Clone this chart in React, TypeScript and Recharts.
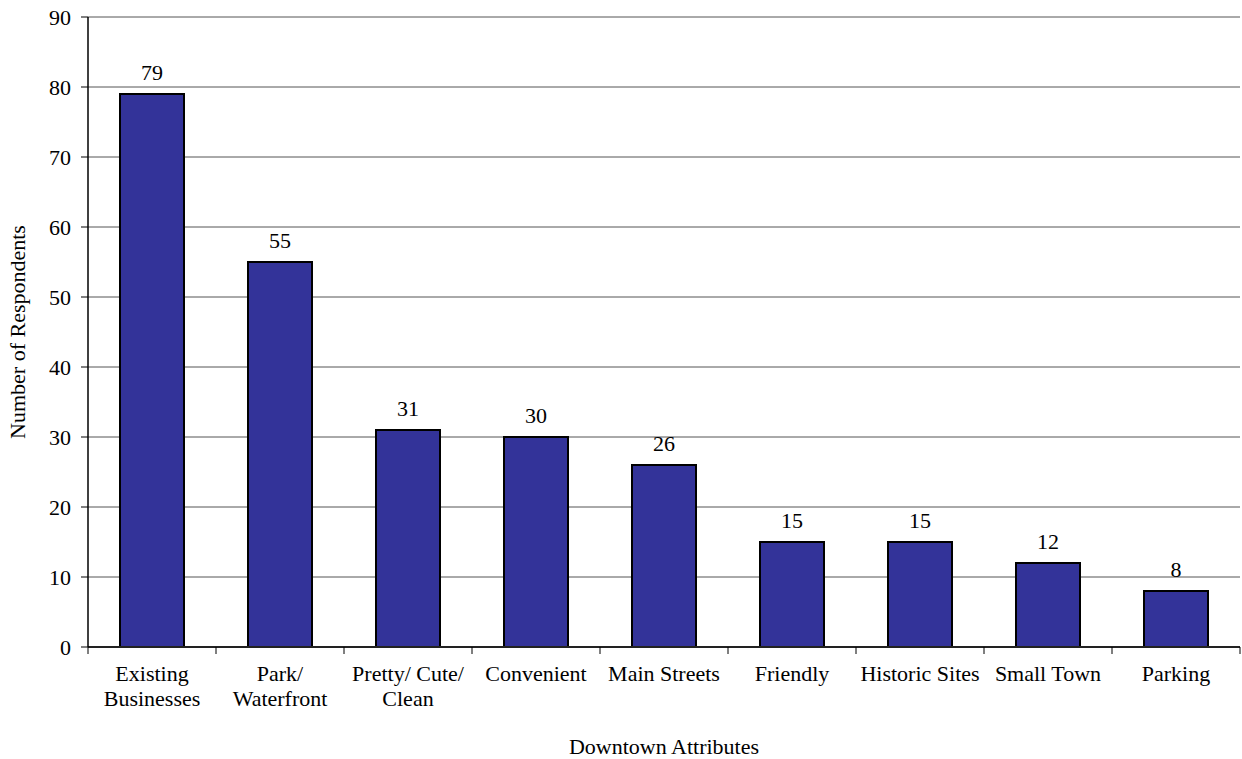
import React from "react";
import {
  BarChart,
  Bar,
  XAxis,
  YAxis,
  CartesianGrid,
  LabelList,
} from "recharts";

const attributes = [
  "Existing\nBusinesses",
  "Park/\nWaterfront",
  "Pretty/ Cute/\nClean",
  "Convenient",
  "Main Streets",
  "Friendly",
  "Historic Sites",
  "Small Town",
  "Parking",
];
const respondents = [79, 55, 31, 30, 26, 15, 15, 12, 8];
const yTicks = [0, 10, 20, 30, 40, 50, 60, 70, 80, 90];

const WIDTH = 1242;
const HEIGHT = 759;
const Y_AXIS_W = 88;
const MARGIN = { top: 17, right: 2, left: 0, bottom: 0 };
const X_AXIS_H = 112;
const PLOT_W = WIDTH - Y_AXIS_W - MARGIN.left - MARGIN.right;
const BAND = PLOT_W / attributes.length;

const FONT = "Liberation Serif, Times New Roman, Tinos, serif";
const FS = 22;
const textStyle = { fontFamily: FONT };

const data = attributes.map((name, i) => ({ name, value: respondents[i] }));

// category label plus the little tick marks on the band boundaries
function CategoryTick(props: any) {
  const { x, y, payload, index } = props;
  const lines = String(payload.value).split("\n");
  const top = y - 7;
  const left = x - BAND / 2;
  const isLast = index === attributes.length - 1;
  return (
    <g>
      <line x1={left} x2={left} y1={top} y2={top + 7} stroke="#000" strokeWidth={1} />
      {isLast && (
        <line x1={x + BAND / 2} x2={x + BAND / 2} y1={top} y2={top + 7} stroke="#000" strokeWidth={1} />
      )}
      <text x={x} y={top + 34} textAnchor="middle" style={textStyle} fontSize={FS} fill="#000">
        {lines.map((l, i) => (
          <tspan key={i} x={x} dy={i === 0 ? 0 : 25}>
            {l}
          </tspan>
        ))}
      </text>
    </g>
  );
}

function XTitle(props: any) {
  const { viewBox } = props;
  return (
    <text
      x={viewBox.x + viewBox.width / 2}
      y={HEIGHT - 5}
      textAnchor="middle"
      style={textStyle}
      fontSize={FS}
      fill="#000"
    >
      Downtown Attributes
    </text>
  );
}

function YTitle(props: any) {
  const { viewBox } = props;
  const cy = viewBox.y + viewBox.height / 2;
  return (
    <text
      x={25}
      y={cy}
      transform={`rotate(-90, 25, ${cy})`}
      textAnchor="middle"
      style={textStyle}
      fontSize={FS}
      fill="#000"
    >
      Number of Respondents
    </text>
  );
}

export default function App() {
  return (
    <div style={{ position: "absolute", left: 0, top: 0, background: "#fff", fontFamily: FONT }}>
      <BarChart width={WIDTH} height={HEIGHT} data={data} margin={MARGIN} barCategoryGap="25%">
        <CartesianGrid vertical={false} stroke="#555" strokeWidth={1} />
        <XAxis
          dataKey="name"
          height={X_AXIS_H}
          interval={0}
          tickLine={false}
          tickSize={7}
          tickMargin={0}
          tick={<CategoryTick />}
          axisLine={{ stroke: "#222", strokeWidth: 2 }}
          label={<XTitle />}
        />
        <YAxis
          width={Y_AXIS_W}
          domain={[0, 90]}
          ticks={yTicks}
          interval={0}
          tickSize={7}
          tickMargin={10}
          tickLine={{ stroke: "#000" }}
          axisLine={{ stroke: "#000", strokeWidth: 1.5 }}
          tick={{ style: textStyle, fontSize: FS, fill: "#000" }}
          label={<YTitle />}
        />
        <Bar
          dataKey="value"
          fill="#333399"
          stroke="#000"
          strokeWidth={2}
          isAnimationActive={false}
        >
          <LabelList
            dataKey="value"
            position="top"
            offset={14}
            style={textStyle}
            fontSize={FS}
            fill="#000"
          />
        </Bar>
      </BarChart>
    </div>
  );
}
